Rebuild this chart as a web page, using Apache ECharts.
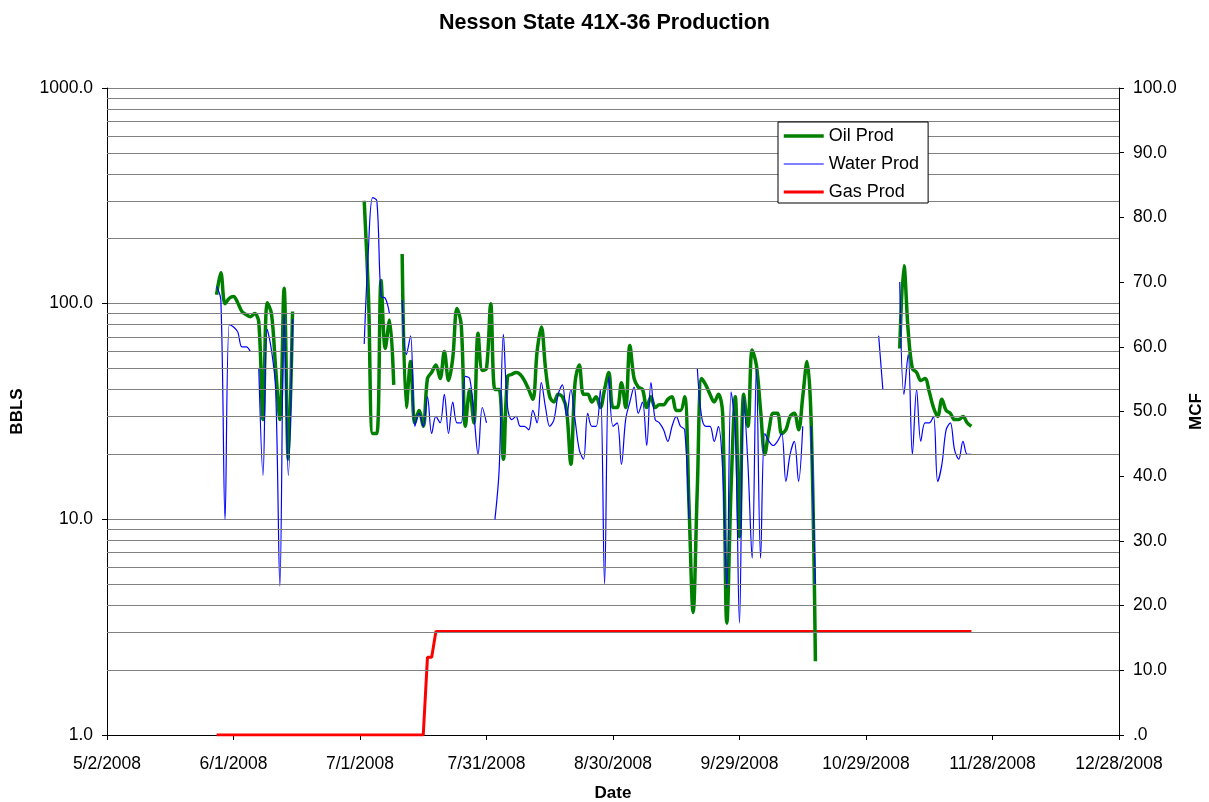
<!DOCTYPE html>
<html>
<head>
<meta charset="utf-8">
<script src="https://cdn.jsdelivr.net/npm/echarts@6/dist/echarts.min.js"></script>
<style>
  html, body { margin: 0; padding: 0; background: #fff; }
  #chart { width: 1209px; height: 802px; }
</style>
</head>
<body>
<div id="chart"></div>
<script>
// x values are Excel serial days (5/2/2008 = 39570, a multiple of 30)
const xTickStart = 39570
const xTickEnd = 39810
const firstDay = 39596 // 5/28/2008, one value per day after it

const oilProd = [
  110, 139, 100, 106, 108, 101, 92, 89, 87, 90,
  82, 29, 101, 90, 50, 29, 118, 19, 92, null,
  null, null, null, null, null, null, null, null, null, null,
  null, null, null, null, null, 300, 110, 25, 25, 128,
  62, 84, 42, null, 170, 33, 54, 28, 32, 27,
  45, 48, 52, 45, 60, 44, 56, 95, 80, 27,
  40, 28, 73, 49, 50, 100, 40, 40, 19, 46,
  47, 48, 47, 44, 40, 36, 60, 78, 50, 37,
  35, 38, 37, 32, 18, 43, 52, 38, 38, 35,
  37, 33, 40, 48, 33, 33, 43, 33, 64, 45,
  41, 40, 33, 37, 33, 34, 34, 36, 37, 32,
  32, 37, 12, 3.7, 14, 45, 42, 38, 35, 38,
  31, 3.3, 14, 37, 8.3, 38, 27, 61, 52, 32,
  20, 26, 31, 31, 25, 26, 30, 31, 26, 37,
  54, 28, 2.2, null, null, null, null, null, null, null,
  null, null, null, null, null, null, null, null, null, null,
  null, null, 62, 150, 75, 50, 48, 44, 45, 39,
  33, 30, 36, 32, 31, 29, 29, 30, 28, 27
]

const waterProd = [
  120, 104, 10, 80, 78, 74, 63, 63, 60, null,
  50, 16, 76, 61, 40, 4.9, 90, 16, 85, null,
  null, null, null, null, null, null, null, null, null, null,
  null, null, null, null, null, 65, 180, 310, 300, 108,
  106, 90, null, null, 104, 58, 71, 27, 31, 27,
  37, 25, 30, 28, 38, 25, 35, 28, 28, 46,
  45, 31, 20, 33, 28, null, 10, 17, 72, 33,
  29, 30, 27, 27, 26, 32, 28, 43, 33, 27,
  29, 38, 42, 30, 40, 29, 21, 19, 31, 27,
  27, 40, 5, 46, 27, 28, 18, 29, 35, 41,
  31, 35, 22, 43, 29, 28, 26, 23, 27, 30,
  27, 26, 10, null, 50, 30, 27, 27, 23, 27,
  17, 4.8, 39, 26, 3.3, 37, 18, 6.6, 50, 6.6,
  25, 23, 22, 23, 25, 15, 20, 23, 15, 27,
  null, 27, 5, null, null, null, null, null, null, null,
  null, null, null, null, null, null, null, 71, 40, null,
  null, null, 126, 38, 58, 20, 40, 23, 28, 28,
  30, 15, 18, 26, 28, 21, 19, 23, 20, 20
]

// gas (MCF) only changes a few times
const gasDays = [39596, 39645, 39646, 39647, 39648, 39775]
const gasProd = [0, 0, 12, 12, 16, 16]

const minorLevels = [2, 3, 4, 5, 6, 7, 8, 9, 20, 30, 40, 50, 60, 70, 80, 90,
  200, 300, 400, 500, 600, 700, 800, 900]

function serialToDate(s) {
  const d = new Date(Date.UTC(1899, 11, 30) + s * 86400000)
  return (d.getUTCMonth() + 1) + '/' + d.getUTCDate() + '/' + d.getUTCFullYear()
}

const font = 'Liberation Sans, Arial, sans-serif'
const chart = echarts.init(document.getElementById('chart'))

chart.setOption({
  animation: false,
  backgroundColor: '#fff',
  title: {
    text: 'Nesson State 41X-36 Production',
    left: 'center',
    top: 7,
    textStyle: { fontFamily: font, fontSize: 21.5, fontWeight: 'bold', color: '#000' }
  },
  legend: {
    data: [
      { name: 'Oil Prod', lineStyle: { color: '#008000', width: 3.5 } },
      { name: 'Water Prod', lineStyle: { color: '#0000ff', width: 1.2 } },
      { name: 'Gas Prod', lineStyle: { color: '#ff0000', width: 3 } }
    ],
    orient: 'vertical',
    left: 778,
    top: 122,
    z: 20,
    zlevel: 1,
    padding: [5, 9, 2, 4],
    itemWidth: 40,
    itemHeight: 14,
    itemGap: 10,
    itemTextGap: 4,
    itemStyle: { opacity: 0 },
    backgroundColor: '#fff',
    borderColor: '#000',
    borderWidth: 1,
    borderRadius: 0,
    textStyle: { fontFamily: font, fontSize: 18, color: '#000' }
  },
  grid: { left: 107, right: 90, top: 88, bottom: 67, outerBoundsMode: 'none' },
  xAxis: {
    type: 'value',
    min: xTickStart,
    max: xTickEnd,
    interval: 30,
    name: 'Date',
    nameLocation: 'middle',
    nameGap: 50,
    nameTextStyle: { fontFamily: font, fontSize: 17, fontWeight: 'bold', color: '#000' },
    axisLine: { onZero: false, lineStyle: { color: '#000', width: 1 } },
    axisTick: { length: 5, lineStyle: { color: '#000' } },
    splitLine: { show: false },
    axisLabel: {
      fontFamily: font, fontSize: 17.5, color: '#000', margin: 20,
      formatter: v => serialToDate(v)
    }
  },
  yAxis: [
    {
      type: 'log',
      logBase: 10,
      min: 1,
      max: 1000,
      name: 'BBLS',
      nameLocation: 'middle',
      nameRotate: 90,
      nameGap: 81,
      nameTextStyle: { fontFamily: font, fontSize: 17, fontWeight: 'bold', color: '#000' },
      axisLine: { show: true, lineStyle: { color: '#000', width: 1 } },
      axisTick: { show: true, length: 5, lineStyle: { color: '#000' } },
      splitLine: { show: true, lineStyle: { color: '#808080', width: 1 } },
      axisLabel: {
        fontFamily: font, fontSize: 17.5, color: '#000', margin: 14,
        formatter: v => Number(v).toFixed(1)
      }
    },
    {
      type: 'value',
      position: 'right',
      min: 0,
      max: 100,
      interval: 10,
      name: 'MCF',
      nameLocation: 'middle',
      nameRotate: 90,
      nameGap: 69,
      nameTextStyle: { fontFamily: font, fontSize: 17, fontWeight: 'bold', color: '#000' },
      axisLine: { show: true, lineStyle: { color: '#000', width: 1 } },
      axisTick: { show: true, length: 5, lineStyle: { color: '#000' } },
      splitLine: { show: false },
      axisLabel: {
        fontFamily: font, fontSize: 17.5, color: '#000', margin: 14,
        formatter: v => (v === 0 ? '.0' : v.toFixed(1))
      }
    }
  ],
  series: [
    {
      name: 'minor grid',
      type: 'line',
      yAxisIndex: 0,
      data: [],
      z: 1,
      markLine: {
        silent: true,
        symbol: ['none', 'none'],
        label: { show: false },
        lineStyle: { color: '#808080', type: 'solid', width: 1 },
        data: minorLevels.map(v => ({ yAxis: v }))
      }
    },
    {
      name: 'Gas Prod',
      type: 'line',
      yAxisIndex: 1,
      showSymbol: false,
      symbol: 'none',
      color: '#ff0000',
      lineStyle: { color: '#ff0000', width: 3 },
      data: gasDays.map((d, i) => [d, gasProd[i]]),
      z: 3
    },
    {
      name: 'Water Prod',
      type: 'line',
      yAxisIndex: 0,
      smooth: 0.35,
      showSymbol: false,
      symbol: 'none',
      color: '#0000ff',
      lineStyle: { color: '#0000ff', width: 1.2 },
      data: waterProd.map((v, i) => [firstDay + i, v]),
      z: 4
    },
    {
      name: 'Oil Prod',
      type: 'line',
      yAxisIndex: 0,
      smooth: 0.35,
      showSymbol: false,
      symbol: 'none',
      color: '#008000',
      lineStyle: { color: '#008000', width: 3.5 },
      data: oilProd.map((v, i) => [firstDay + i, v]),
      z: 3
    }
  ]
})
</script>
</body>
</html>
